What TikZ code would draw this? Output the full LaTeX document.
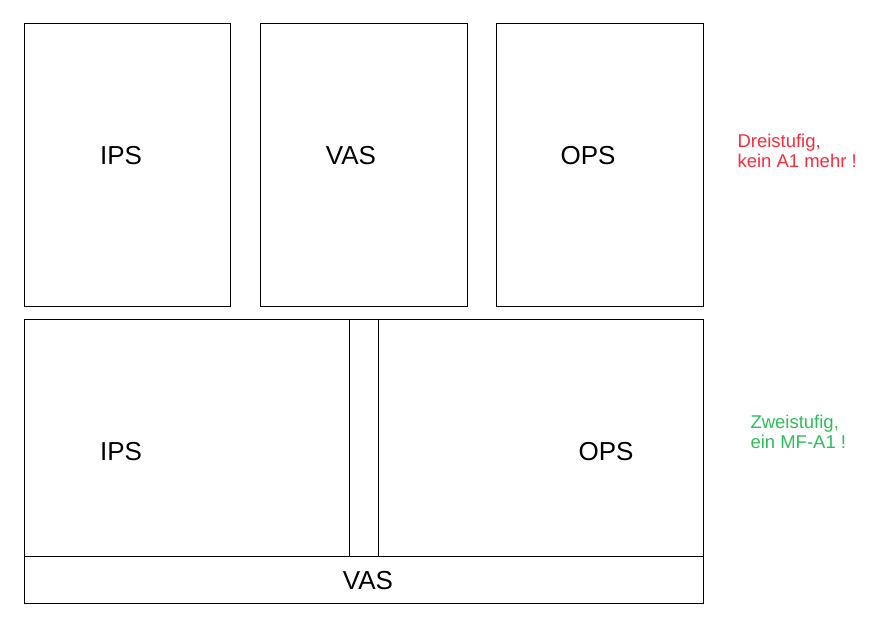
\documentclass[tikz,border=0pt]{standalone}
\usepackage{fontspec}
\setmainfont{Liberation Sans}
\usepackage{tikz}
\definecolor{stufred}{RGB}{245,45,60}
\definecolor{stufgreen}{RGB}{45,190,90}

\begin{document}
\begin{tikzpicture}[x=1pt, y=-1pt, line width=1pt,
  blocklabel/.style={inner sep=0pt, font=\fontsize{26}{30}\selectfont},
  note/.style={inner sep=0pt, anchor=west, align=left, font=\fontsize{18.5}{20}\selectfont}]
  \useasboundingbox (0,0) rectangle (894,626);
  % dreistufig
  \draw (24,24) rectangle (230,306);
  \draw (260,24) rectangle (467,306);
  \draw (496,24) rectangle (703,306);
  \node[blocklabel] (ips3) at (121,156) {IPS};
  \node[blocklabel] (vas3) at (351,156) {VAS};
  \node[blocklabel] (ops3) at (588,156) {OPS};
  \node[note, stufred] (drei) at (737,151) {Dreistufig,\\kein A1 mehr !};
  % zweistufig
  \draw (24,319) rectangle (703,603);
  \draw (24,556) -- (703,556);
  \draw (349,319) -- (349,556);
  \draw (378,319) -- (378,556);
  \node[blocklabel] (ips2) at (121,452) {IPS};
  \node[blocklabel] (ops2) at (606,452) {OPS};
  \node[blocklabel] (vas2) at (368,581) {VAS};
  \node[note, stufgreen] (zwei) at (750,432) {Zweistufig,\\ein MF-A1 !};
\end{tikzpicture}
\end{document}
